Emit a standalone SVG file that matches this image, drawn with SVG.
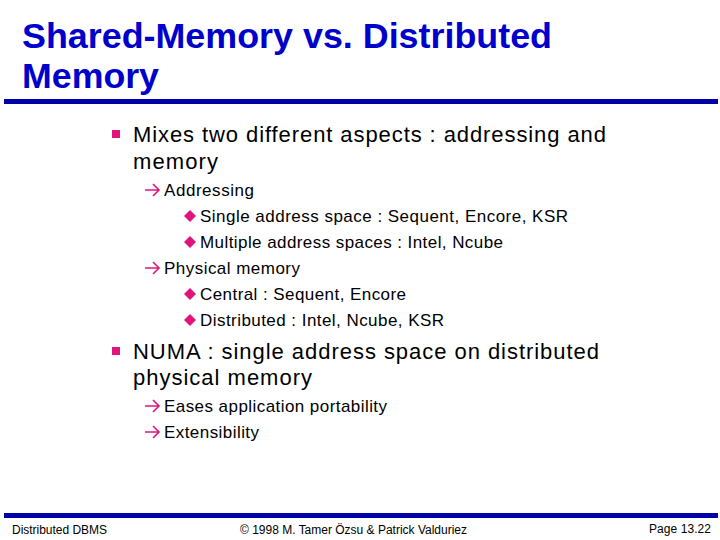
<svg xmlns="http://www.w3.org/2000/svg" width="720" height="540" viewBox="0 0 720 540">
<defs><path id="ar" d="M0 0h14M8-6l6 6-6 6" fill="none" stroke="#e0147c" stroke-width="1.6"/></defs>
<style>
text{font-family:"Liberation Sans",Arial,sans-serif;fill:#000}
.t{font-size:35px;font-weight:bold;fill:#0000cc}
.l1{font-size:22px}
.l2{font-size:17px}
.p{fill:#e0147c}
.f{font-size:12px}
</style>
<rect width="720" height="540" fill="#fff"/>
<text class="t" x="22" y="48" textLength="530" lengthAdjust="spacingAndGlyphs">Shared-Memory vs. Distributed</text>
<text class="t" x="22" y="88" textLength="137" lengthAdjust="spacingAndGlyphs">Memory</text>
<rect x="4" y="99" width="714" height="5" fill="#0000aa"/>
<rect x="112" y="130" width="8" height="8" class="p"/>
<text class="l1" x="133" y="142" textLength="473">Mixes two different aspects : addressing and</text>
<text class="l1" x="133" y="169" textLength="85">memory</text>
<use href="#ar" x="145" y="190"/>
<text class="l2" x="164" y="196" textLength="90">Addressing</text>
<path class="p" d="M190 210l6 6-6 6-6-6z"/>
<text class="l2" x="200" y="222" textLength="368">Single address space : Sequent, Encore, KSR</text>
<path class="p" d="M190 236l6 6-6 6-6-6z"/>
<text class="l2" x="200" y="248" textLength="303">Multiple address spaces : Intel, Ncube</text>
<use href="#ar" x="145" y="268"/>
<text class="l2" x="164" y="274" textLength="136">Physical memory</text>
<path class="p" d="M190 288l6 6-6 6-6-6z"/>
<text class="l2" x="200" y="300" textLength="206">Central : Sequent, Encore</text>
<path class="p" d="M190 314l6 6-6 6-6-6z"/>
<text class="l2" x="200" y="326" textLength="244">Distributed : Intel, Ncube, KSR</text>
<rect x="112" y="347" width="8" height="8" class="p"/>
<text class="l1" x="133" y="359" textLength="466">NUMA : single address space on distributed</text>
<text class="l1" x="133" y="385" textLength="179">physical memory</text>
<use href="#ar" x="145" y="406"/>
<text class="l2" x="164" y="412" textLength="223">Eases application portability</text>
<use href="#ar" x="145" y="432"/>
<text class="l2" x="164" y="438" textLength="95">Extensibility</text>
<rect x="4" y="513" width="714" height="5" fill="#0000aa"/>
<text class="f" x="12" y="534" textLength="95">Distributed DBMS</text>
<text class="f" x="240" y="534" textLength="227">© 1998 M. Tamer Özsu &amp; Patrick Valduriez</text>
<text class="f" x="649" y="533" textLength="62">Page 13.22</text>
</svg>
